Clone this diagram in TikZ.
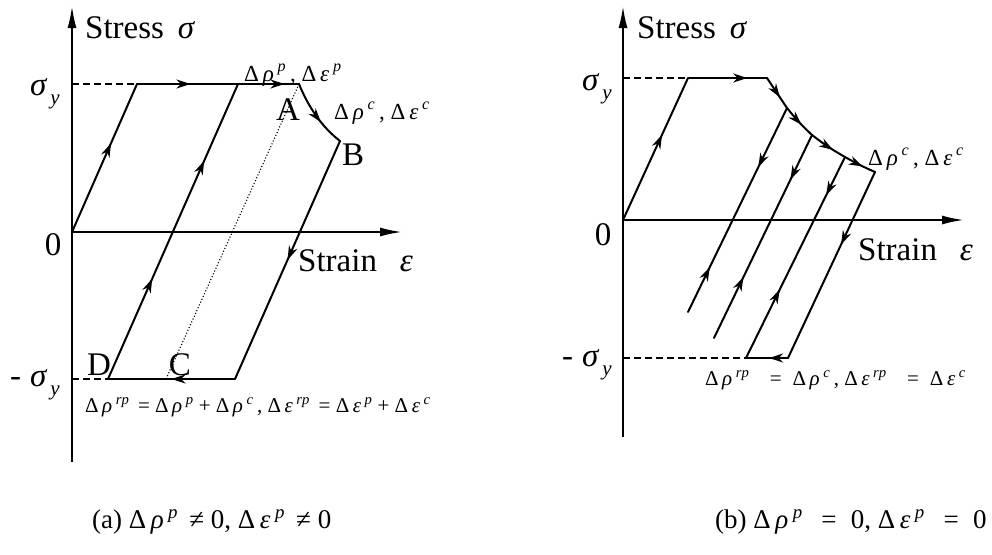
\documentclass[tikz,border=0pt]{standalone}
\usepackage{fontspec}
\setmainfont{Liberation Serif}
\usetikzlibrary{arrows.meta,decorations.markings}
\newcommand\supit[1]{\,\textsuperscript{\itshape #1}}
\newcommand\isig{\textit{σ}}
\newcommand\irho{\textit{ρ}}
\newcommand\ieps{\textit{ε}}
\newcommand\sigy{\isig\hspace{3pt}\raisebox{-0.3em}{\fontsize{21}{21}\selectfont\itshape y}}
\tikzset{
  crv/.style={line width=2pt, line join=round, line cap=round},
  axisline/.style={line width=2pt, -{Latex[length=22pt,width=9pt]}},
  dashln/.style={line width=1.5pt, dash pattern=on 7pt off 4pt},
  dotln/.style={line width=1.1pt, dash pattern=on 1.1pt off 2pt},
  mk/.style={postaction={decorate,decoration={markings,mark=at position #1 with {\arrow{Stealth[length=14pt,width=9pt,inset=4.5pt]}}}}},
  mkr/.style={postaction={decorate,decoration={markings,mark=at position #1 with {\arrowreversed{Stealth[length=14pt,width=9pt,inset=4.5pt]}}}}},
  big/.style={font=\fontsize{33}{35}\selectfont, inner sep=0pt},
  small/.style={font=\fontsize{23}{25}\selectfont, inner sep=0pt},
  frm/.style={font=\fontsize{21}{23}\selectfont, inner sep=0pt},
  capt/.style={font=\fontsize{27}{29}\selectfont, inner sep=0pt},
}
\begin{document}
\begin{tikzpicture}[x=1pt,y=-1pt]
\useasboundingbox (0,0) rectangle (992,554);
% ---------- left panel ----------
\coordinate (Lyb) at (72,462);
\coordinate (Lyt) at (72,6);
\coordinate (O1) at (72,232);
\coordinate (Lxe) at (402,232);
\coordinate (Lsy) at (72,84);
\coordinate (Lmsy) at (72,379);
\coordinate (P1) at (137,84);
\coordinate (A) at (299,84);
\coordinate (B) at (340,141);
\coordinate (E1) at (235,379);
\coordinate (D) at (108,379);
\coordinate (T2) at (238,84);
\coordinate (C) at (166,379);
\draw[axisline] (Lyb) -- (Lyt);
\draw[axisline] (O1) -- (Lxe);
\draw[dashln] (Lsy) -- (P1);
\draw[dashln] (Lmsy) -- (D);
\draw[crv, mk=0.6] (O1) -- (P1);
\draw[crv, mk=0.33, mk=0.91] (P1) -- (A);
\draw[crv, mk=0.62] (A) .. controls (306,101) and (318,124) .. (B);
\draw[crv, mk=0.5] (B) -- (E1);
\draw[crv, mk=0.5] (E1) -- (D);
\draw[crv, mk=0.34, mk=0.74] (D) -- (T2);
\draw[dotln] (A) -- (C);
\node[big, anchor=base west] (Ls) at (85,38) {Stress\, \isig};
\node[big, anchor=base west] (Le) at (298,271) {Strain\;\, \ieps};
\node[big, anchor=base east] (Lsyl) at (60,95) {\sigy};
\node[big, anchor=base east] (Lmsyl) at (60,386) {-\;\sigy};
\node[big] (L0) at (53,245) {0};
\node[big] (LA) at (288,110) {A};
\node[big] (LB) at (353,155) {B};
\node[big] (LD) at (99,365) {D};
\node[big] (LC) at (180,365) {C};
\node[small, anchor=base west] (Lp) at (244,81) {Δ\,\irho\supit{p}\,, Δ\,\ieps\supit{p}};
\node[small, anchor=base west] (Lc) at (334,119) {Δ\,\irho\supit{c}\,, Δ\,\ieps\supit{c}};
\node[frm, anchor=base west] (Lf) at (85,412) {Δ\,\irho\supit{rp}\, = Δ\,\irho\supit{p} + Δ\,\irho\supit{c}\,, Δ\,\ieps\supit{rp}\, = Δ\,\ieps\supit{p} + Δ\,\ieps\supit{c}};
\node[capt, anchor=base west] (La) at (92,528) {(a) Δ\,\irho\supit{p}\, ≠ 0, Δ\,\ieps\supit{p}\, ≠ 0};
% ---------- right panel ----------
\coordinate (Ryb) at (623,437);
\coordinate (Ryt) at (623,6);
\coordinate (O2) at (623,220);
\coordinate (Rxe) at (964,220);
\coordinate (Rsy) at (623,78);
\coordinate (Rmsy) at (623,358);
\coordinate (Q1) at (688,78);
\coordinate (R0) at (767,78);
\coordinate (R1) at (787,108);
\coordinate (R2) at (812,135);
\coordinate (R3) at (845,157);
\coordinate (R4) at (875,172);
\coordinate (F1) at (688,312);
\coordinate (F2) at (714,338);
\coordinate (F3) at (746,358);
\coordinate (F4) at (788,358);
\draw[axisline] (Ryb) -- (Ryt);
\draw[axisline] (O2) -- (Rxe);
\draw[dashln] (Rsy) -- (Q1);
\draw[dashln] (Rmsy) -- (F3);
\draw[crv, mk=0.6] (O2) -- (Q1);
\draw[crv, mk=0.75] (Q1) -- (R0);
\draw[crv, mk=0.65] (R0) -- (R1);
\draw[crv, mk=0.6] (R1) to[bend right=4] (R2);
\draw[crv, mk=0.65] (R2) to[bend right=4] (R3);
\draw[crv, mk=0.6] (R3) to[bend right=3] (R4);
\draw[crv, mk=0.29, mkr=0.78] (R1) -- (F1);
\draw[crv, mk=0.22, mkr=0.70] (R2) -- (F2);
\draw[crv, mk=0.19, mkr=0.66] (R3) -- (F3);
\draw[crv, mk=0.39] (R4) -- (F4);
\draw[crv, mk=0.45] (F4) -- (F3);
\node[big, anchor=base west] (Rs) at (637,38) {Stress\, \isig};
\node[big, anchor=base west] (Re) at (858,260) {Strain\;\, \ieps};
\node[big, anchor=base east] (Rsyl) at (612,90) {\sigy};
\node[big, anchor=base east] (Rmsyl) at (612,366) {-\;\sigy};
\node[big] (R0l) at (603,235) {0};
\node[small, anchor=base west] (Rc) at (868,165) {Δ\,\irho\supit{c}\,, Δ\,\ieps\supit{c}};
\node[frm, anchor=base west] (Rf) at (705,385) {Δ\,\irho\supit{rp}\;\;\, = \;Δ\,\irho\supit{c}\,, Δ\,\ieps\supit{rp}\;\;\, = \;Δ\,\ieps\supit{c}};
\node[capt, anchor=base west] (Rb) at (715,528) {(b) Δ\,\irho\supit{p}\;\, = \;0, Δ\,\ieps\supit{p}\;\, = \;0};
\end{tikzpicture}
\end{document}
